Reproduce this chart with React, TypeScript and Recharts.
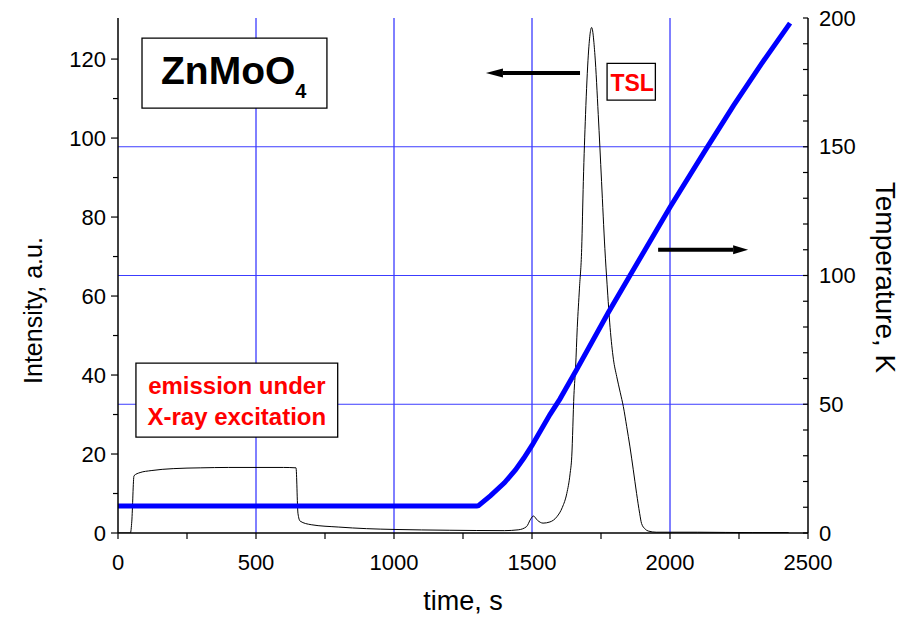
import { ComposedChart, Line, XAxis, YAxis, CartesianGrid, ReferenceArea, ReferenceLine } from 'recharts';

const FONT = '"Liberation Sans", Arial, Helvetica, sans-serif';

// TSL intensity (left axis), time in s
const tslTime = [0, 45, 50, 58, 80, 120, 200, 300, 400, 500, 600, 645, 652, 660, 700, 800, 900, 1000, 1200, 1400, 1450, 1480, 1495, 1505, 1520, 1540, 1565, 1590, 1610, 1626, 1638, 1644, 1652, 1658, 1664, 1672, 1680, 1686, 1694, 1704, 1716, 1728, 1740, 1752, 1764, 1772, 1783, 1795, 1807, 1820, 1831, 1843, 1855, 1867, 1879, 1890, 1897, 1910, 1921, 1950, 2100, 2300, 2430];
const tslIntensity = [0, 0, 3, 14.5, 15.3, 15.8, 16.3, 16.5, 16.6, 16.6, 16.6, 16.5, 5, 3.0, 2.1, 1.5, 1.1, 0.9, 0.7, 0.6, 0.8, 1.6, 3.5, 4.3, 3.2, 2.5, 2.8, 4.1, 6.5, 10, 15, 19.3, 35, 42, 52, 62, 72, 89, 106, 121, 128, 121, 106, 89, 72, 63, 52, 44, 39.6, 35.5, 32, 27, 21.8, 16, 10, 5, 2.4, 1, 0.5, 0.2, 0.2, 0.1, 0.1];

// sample temperature (right axis)
const tempTime = [0, 1300, 1306, 1350, 1400, 1440, 1470, 1500, 1565, 1601, 1662, 1776, 1855, 2000, 2130, 2230, 2330, 2435];
const tempK = [10.5, 10.5, 10.6, 14.5, 19.5, 24.5, 29, 34, 46, 52, 63.5, 85.5, 100, 126.5, 149, 166, 182, 198];

const timeTicks = [0, 250, 500, 750, 1000, 1250, 1500, 1750, 2000, 2250, 2500];
const intensityTicks = [0, 10, 20, 30, 40, 50, 60, 70, 80, 90, 100, 110, 120];
const tempTicks = [0, 10, 20, 30, 40, 50, 60, 70, 80, 90, 100, 110, 120, 130, 140, 150, 160, 170, 180, 190, 200];
const gridTimes = [500, 1000, 1500, 2000];
const gridTemps = [50, 100, 150];

const tslData = tslTime.map((t, i) => ({ t, v: tslIntensity[i] }));
const tempData = tempTime.map((t, i) => ({ t, v: tempK[i] }));

const LeftTick = ({ x, y, payload }: any) => {
  const major = payload.value % 20 === 0;
  return (
    <g>
      <line x1={x - (major ? 7 : 5)} x2={x} y1={y} y2={y} stroke="#000" strokeWidth={1.2} />
      {major && (
        <text x={x - 12} y={y} textAnchor="end" dominantBaseline="central" fontSize={22} fontFamily={FONT} fill="#000">
          {payload.value}
        </text>
      )}
    </g>
  );
};

const RightTick = ({ x, y, payload }: any) => {
  const major = payload.value % 50 === 0;
  return (
    <g>
      <line x1={x - 5} x2={x} y1={y} y2={y} stroke="#000" strokeWidth={1.2} />
      {major && (
        <text x={x + 11} y={y} textAnchor="start" dominantBaseline="central" fontSize={22} fontFamily={FONT} fill="#000">
          {payload.value}
        </text>
      )}
    </g>
  );
};

const BottomTick = ({ x, y, payload }: any) => {
  const major = payload.value % 500 === 0;
  return (
    <g>
      <line x1={x} x2={x} y1={y} y2={y + 6} stroke="#000" strokeWidth={1.2} />
      {major && (
        <text x={x} y={y + 37} textAnchor="middle" fontSize={22} fontFamily={FONT} fill="#000">
          {payload.value}
        </text>
      )}
    </g>
  );
};

const TopTick = ({ x, y }: any) => <line x1={x} x2={x} y1={y} y2={y + 5} stroke="#000" strokeWidth={1.2} />;

const Arrow = ({ x1, y1, x2, y2, head }: any) => {
  const dir = x2 > x1 ? 1 : -1;
  const bx = x2 - dir * head;
  return (
    <g>
      <line x1={x1} y1={y1} x2={bx} y2={y2} stroke="#000" strokeWidth={4} />
      <polygon points={`${x2},${y2} ${bx},${y2 - 4.5} ${bx},${y2 + 4.5}`} fill="#000" />
    </g>
  );
};

export default function App() {
  return (
    <div style={{ position: 'absolute', left: 0, top: 0, width: 906, height: 619, background: '#fff' }}>
      <ComposedChart width={906} height={619} margin={{ top: 18, right: 0, bottom: 0, left: 0 }}>
        <CartesianGrid xAxisId="bottom" yAxisId="right" horizontal={false} verticalValues={gridTimes} stroke="#0000ff" strokeWidth={1} />
        <CartesianGrid xAxisId="bottom" yAxisId="right" vertical={false} horizontalValues={gridTemps} stroke="#3c3cff" strokeWidth={1} />
        <XAxis
          xAxisId="bottom"
          type="number"
          dataKey="t"
          domain={[0, 2500]}
          ticks={timeTicks}
          interval={0}
          height={86}
          tickSize={0}
          tickMargin={0}
          tickLine={false}
          tick={<BottomTick />}
          axisLine={{ stroke: '#000', strokeWidth: 1.5 }}
          allowDataOverflow
          label={{
            content: ({ viewBox }: any) => (
              <text x={viewBox.x + viewBox.width / 2} y={viewBox.y + 77} textAnchor="middle" fontSize={27} fontFamily={FONT} fill="#000">
                time, s
              </text>
            ),
          }}
        />
        <XAxis
          xAxisId="top"
          orientation="top"
          type="number"
          dataKey="t"
          domain={[0, 2500]}
          ticks={timeTicks}
          interval={0}
          height={0}
          tickSize={0}
          tickMargin={0}
          tickLine={false}
          tick={<TopTick />}
          axisLine={{ stroke: '#000', strokeWidth: 1.5 }}
          allowDataOverflow
        />
        <YAxis
          yAxisId="left"
          type="number"
          domain={[0, 130.4]}
          ticks={intensityTicks}
          interval={0}
          width={118}
          tickSize={0}
          tickMargin={0}
          tickLine={false}
          tick={<LeftTick />}
          axisLine={{ stroke: '#000', strokeWidth: 1.5 }}
          allowDataOverflow
          label={{
            content: ({ viewBox }: any) => {
              const cx = viewBox.x + 33;
              const cy = viewBox.y + viewBox.height / 2 + 35;
              return (
                <text x={cx} y={cy} transform={`rotate(-90 ${cx} ${cy})`} textAnchor="middle" dominantBaseline="central" fontSize={25} fontFamily={FONT} fill="#000">
                  Intensity, a.u.
                </text>
              );
            },
          }}
        />
        <YAxis
          yAxisId="right"
          orientation="right"
          type="number"
          domain={[0, 200]}
          ticks={tempTicks}
          interval={0}
          width={98}
          tickSize={0}
          tickMargin={0}
          tickLine={false}
          tick={<RightTick />}
          axisLine={{ stroke: '#000', strokeWidth: 1.5 }}
          allowDataOverflow
          label={{
            content: ({ viewBox }: any) => {
              const cx = viewBox.x + 77;
              const cy = viewBox.y + viewBox.height / 2 + 2;
              return (
                <text x={cx} y={cy} transform={`rotate(90 ${cx} ${cy})`} textAnchor="middle" dominantBaseline="central" fontSize={28} fontFamily={FONT} fill="#000">
                  Temperature, K
                </text>
              );
            },
          }}
        />

        <ReferenceArea
          xAxisId="bottom"
          yAxisId="left"
          x1={87}
          x2={757}
          y1={107.6}
          y2={125.3}
          fill="#fff"
          fillOpacity={1}
          stroke="#000"
          strokeWidth={1.3}
          label={{
            content: ({ viewBox }: any) => (
              <text x={viewBox.x + 19} y={viewBox.y + 46} fontSize={39} fontWeight="bold" fontFamily={FONT} fill="#000">
                ZnMoO
                <tspan dy={14} fontSize={20}>4</tspan>
              </text>
            ),
          }}
        />
        <ReferenceArea
          xAxisId="bottom"
          yAxisId="left"
          x1={65}
          x2={796}
          y1={24.3}
          y2={43}
          fill="#fff"
          fillOpacity={1}
          stroke="#000"
          strokeWidth={1.3}
          label={{
            content: ({ viewBox }: any) => (
              <g fontSize={24} fontWeight="bold" fontFamily={FONT} fill="#ff0000" textAnchor="middle">
                <text x={viewBox.x + viewBox.width / 2} y={viewBox.y + 31}>emission under</text>
                <text x={viewBox.x + viewBox.width / 2} y={viewBox.y + 62}>X-ray excitation</text>
              </g>
            ),
          }}
        />
        <ReferenceArea
          xAxisId="bottom"
          yAxisId="left"
          x1={1772}
          x2={1947}
          y1={109.6}
          y2={118.9}
          fill="#fff"
          fillOpacity={1}
          stroke="#000"
          strokeWidth={1.3}
          label={{
            content: ({ viewBox }: any) => (
              <text x={viewBox.x + viewBox.width / 2 + 1} y={viewBox.y + 28} textAnchor="middle" fontSize={23} fontWeight="bold" fontFamily={FONT} fill="#ff0000">
                TSL
              </text>
            ),
          }}
        />

        <Line xAxisId="bottom" yAxisId="left" data={tslData} dataKey="v" type="monotone" stroke="#000" strokeWidth={1} dot={false} activeDot={false} isAnimationActive={false} />
        <Line xAxisId="bottom" yAxisId="right" data={tempData} dataKey="v" type="linear" stroke="#0000ff" strokeWidth={5} dot={false} activeDot={false} isAnimationActive={false} />

        <ReferenceLine
          xAxisId="bottom"
          yAxisId="left"
          segment={[{ x: 1674, y: 116.5 }, { x: 1333, y: 116.5 }]}
          shape={(p: any) => <Arrow x1={p.x1} y1={p.y1} x2={p.x2} y2={p.y2} head={17} />}
        />
        <ReferenceLine
          xAxisId="bottom"
          yAxisId="right"
          segment={[{ x: 1957, y: 110 }, { x: 2283, y: 110 }]}
          shape={(p: any) => <Arrow x1={p.x1} y1={p.y1} x2={p.x2} y2={p.y2} head={15} />}
        />
      </ComposedChart>
    </div>
  );
}
